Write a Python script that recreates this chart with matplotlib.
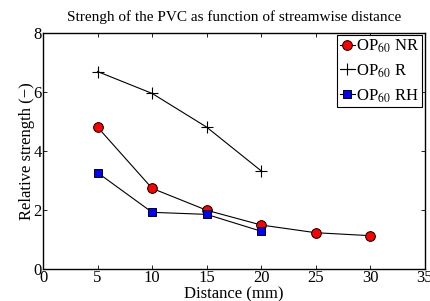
import matplotlib
matplotlib.use("Agg")
from matplotlib import pyplot as plt

# Relative strength of the PVC vs streamwise distance
dist_nr = [5, 10, 15, 20, 25, 30]
strength_nr = [4.80, 2.73, 1.99, 1.49, 1.23, 1.13]

dist_r = [5, 10, 15, 20]
strength_r = [6.68, 5.94, 4.80, 3.32]

dist_rh = [5, 10, 15, 20]
strength_rh = [3.26, 1.92, 1.85, 1.28]

labels = ["OP$_{60}$ NR", "OP$_{60}$ R", "OP$_{60}$ RH"]

plt.rcParams["font.family"] = ["Liberation Serif", "DejaVu Serif"]
plt.rcParams["mathtext.fontset"] = "stix"
plt.rcParams["font.size"] = 12

fig = plt.figure(figsize=(4.31, 3.01), dpi=100)
ax = fig.add_axes([0.0998, 0.106, 0.886, 0.786])

ax.plot(dist_nr, strength_nr, color="black", lw=0.8, marker="o", ms=7,
        mfc="red", mec="black", mew=0.7, label=labels[0])
ax.plot(dist_r, strength_r, color="black", lw=0.8, marker="+", ms=8,
        mew=0.8, label=labels[1])
ax.plot(dist_rh, strength_rh, color="black", lw=0.8, marker="s", ms=5.5,
        mfc="blue", mec="black", mew=0.7, label=labels[2])

ax.set_xlim(0, 35)
ax.set_ylim(0, 8)
ax.set_xticks(range(0, 36, 5))
ax.set_yticks([0, 2, 4, 6, 8])
ax.tick_params(direction="in", top=True, right=True, length=3, width=0.6, pad=1)
for s in ax.spines.values():
    s.set_linewidth(1.0)

ax.set_xlabel("Distance (mm)", labelpad=0)
ax.set_ylabel("Relative strength (\u2212)", labelpad=-1)
ax.set_title("Strengh of the PVC as function of streamwise distance", fontsize=11, pad=8)

leg = ax.legend(loc="upper right", bbox_to_anchor=(0.992, 0.99), fancybox=False,
                edgecolor="black", framealpha=1, handlelength=0.9, handletextpad=0.1,
                borderpad=0.15, labelspacing=0.45, borderaxespad=0)
leg.get_frame().set_linewidth(0.8)

fig.savefig("out.png", dpi=100)
